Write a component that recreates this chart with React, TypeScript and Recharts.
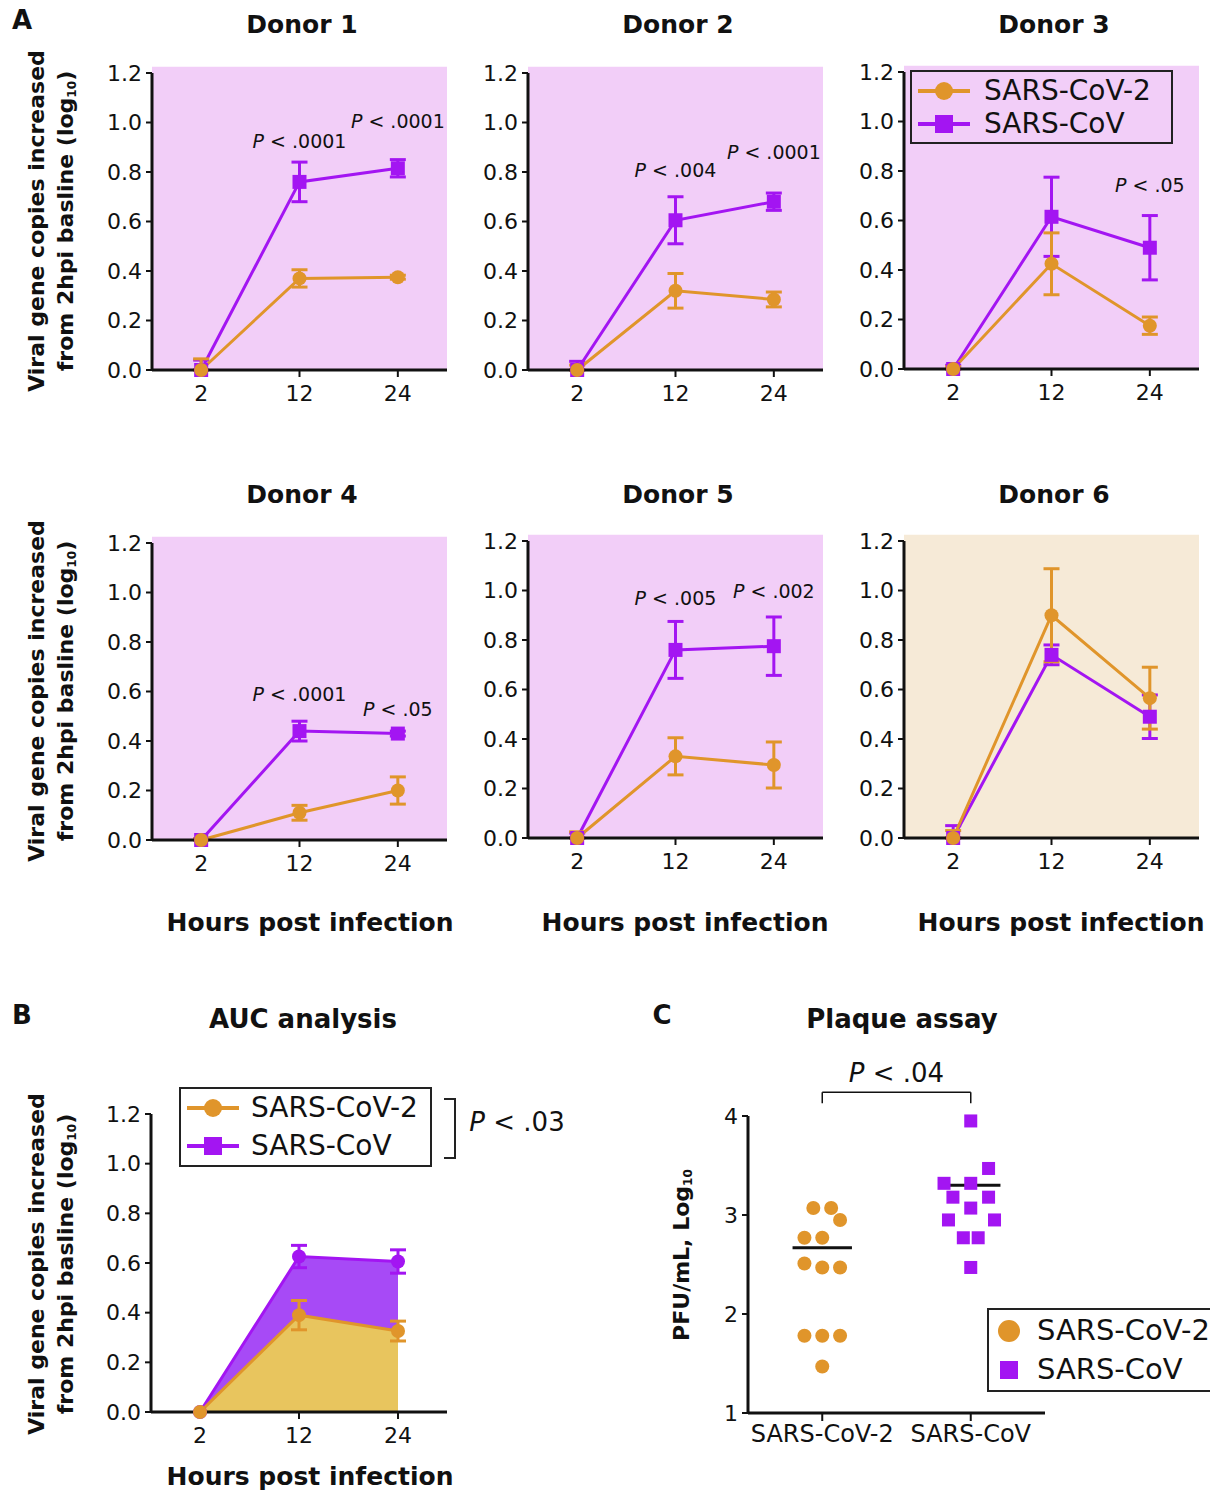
import React from "react";
import {
  Area,
  ComposedChart,
  ErrorBar,
  Legend,
  Line,
  LineChart,
  ReferenceArea,
  ReferenceDot,
  ReferenceLine,
  Scatter,
  ScatterChart,
  XAxis,
  YAxis,
} from "recharts";

const FONT = "'DejaVu Sans', Arial, sans-serif";
const INK = "#111";
const ORANGE = "#e0952b";
const PURPLE = "#a315f2";
const PINK = "#f2cef8";
const BEIGE = "#f6ead7";
const PURPLE_FILL = "#a74af6";
const GOLD_FILL = "#e8c55e";

const HOURS = ["2", "12", "24"];
const Y_TICKS = [0, 0.2, 0.4, 0.6, 0.8, 1.0, 1.2];

// per donor: mean log10 rise over the 2 hpi baseline, and error bar half-length
const D1_COV2 = [0, 0.37, 0.375];
const D1_COV2_ERR = [0.045, 0.035, 0.008];
const D1_COV = [0, 0.76, 0.815];
const D1_COV_ERR = [0.04, 0.08, 0.035];

const D2_COV2 = [0, 0.32, 0.285];
const D2_COV2_ERR = [0.02, 0.07, 0.03];
const D2_COV = [0, 0.605, 0.68];
const D2_COV_ERR = [0.035, 0.095, 0.035];

const D3_COV2 = [0, 0.425, 0.175];
const D3_COV2_ERR = [0.01, 0.125, 0.035];
const D3_COV = [0, 0.615, 0.49];
const D3_COV_ERR = [0.015, 0.16, 0.13];

const D4_COV2 = [0, 0.11, 0.2];
const D4_COV2_ERR = [0.005, 0.03, 0.055];
const D4_COV = [0, 0.44, 0.43];
const D4_COV_ERR = [0.005, 0.04, 0.01];

const D5_COV2 = [0, 0.33, 0.295];
const D5_COV2_ERR = [0.025, 0.075, 0.093];
const D5_COV = [0, 0.76, 0.775];
const D5_COV_ERR = [0.02, 0.115, 0.118];

const D6_COV2 = [0, 0.9, 0.565];
const D6_COV2_ERR = [0.03, 0.188, 0.125];
const D6_COV = [0, 0.74, 0.49];
const D6_COV_ERR = [0.05, 0.04, 0.088];

// AUC panel (pooled)
const AUC_COV2 = [0, 0.39, 0.326];
const AUC_COV2_ERR = [0, 0.059, 0.04];
const AUC_COV = [0, 0.626, 0.606];
const AUC_COV_ERR = [0, 0.045, 0.047];

// plaque assay, PFU/mL log10, with horizontal spread inside each column
const C_GROUPS = ["SARS-CoV-2", "SARS-CoV"];
const C_COV2_PFU = [3.07, 3.07, 2.95, 2.77, 2.77, 2.51, 2.47, 2.47, 1.78, 1.78, 1.78, 1.47];
const C_COV2_SPREAD = [-0.06, 0.06, 0.12, -0.12, 0, -0.12, 0, 0.12, -0.12, 0, 0.12, 0];
const C_COV_PFU = [3.95, 3.47, 3.32, 3.32, 3.18, 3.18, 3.07, 2.95, 2.95, 2.77, 2.77, 2.47];
const C_COV_SPREAD = [0, 0.12, -0.18, 0, -0.12, 0.12, 0, -0.15, 0.16, -0.05, 0.05, 0];
const C_MEDIANS = [2.67, 3.3];

const SERIES = [
  { name: "SARS-CoV-2", color: ORANGE, shape: "circle" },
  { name: "SARS-CoV", color: PURPLE, shape: "square" },
];

type Note = { hour: string; y: number; text: string };
type Donor = {
  title: string;
  cov2: number[];
  cov2Err: number[];
  cov: number[];
  covErr: number[];
  notes: Note[];
  bg: string;
  left: number;
  top: number;
  legend?: boolean;
};

const DONORS: Donor[] = [
  { title: "Donor 1", cov2: D1_COV2, cov2Err: D1_COV2_ERR, cov: D1_COV, covErr: D1_COV_ERR, bg: PINK, left: 152, top: 73,
    notes: [{ hour: "12", y: 0.925, text: ".0001" }, { hour: "24", y: 1.005, text: ".0001" }] },
  { title: "Donor 2", cov2: D2_COV2, cov2Err: D2_COV2_ERR, cov: D2_COV, covErr: D2_COV_ERR, bg: PINK, left: 528, top: 73,
    notes: [{ hour: "12", y: 0.81, text: ".004" }, { hour: "24", y: 0.88, text: ".0001" }] },
  { title: "Donor 3", cov2: D3_COV2, cov2Err: D3_COV2_ERR, cov: D3_COV, covErr: D3_COV_ERR, bg: PINK, left: 904, top: 72,
    notes: [{ hour: "24", y: 0.745, text: ".05" }], legend: true },
  { title: "Donor 4", cov2: D4_COV2, cov2Err: D4_COV2_ERR, cov: D4_COV, covErr: D4_COV_ERR, bg: PINK, left: 152, top: 543,
    notes: [{ hour: "12", y: 0.59, text: ".0001" }, { hour: "24", y: 0.53, text: ".05" }] },
  { title: "Donor 5", cov2: D5_COV2, cov2Err: D5_COV2_ERR, cov: D5_COV, covErr: D5_COV_ERR, bg: PINK, left: 528, top: 541,
    notes: [{ hour: "12", y: 0.97, text: ".005" }, { hour: "24", y: 1.0, text: ".002" }] },
  { title: "Donor 6", cov2: D6_COV2, cov2Err: D6_COV2_ERR, cov: D6_COV, covErr: D6_COV_ERR, bg: BEIGE, left: 904, top: 541,
    notes: [] },
];

const axisProps = {
  axisLine: { stroke: INK, strokeWidth: 3 },
  tickLine: { stroke: INK, strokeWidth: 2 },
  tick: { fill: INK, fontSize: 22, fontFamily: FONT },
};

const circleDot = (color: string, r = 7) => (p: any) =>
  <circle key={`c${p.index}`} cx={p.cx} cy={p.cy} r={r} fill={color} />;
const squareDot = (color: string, s = 14) => (p: any) =>
  <rect key={`s${p.index}`} x={p.cx - s / 2} y={p.cy - s / 2} width={s} height={s} fill={color} />;

const pText = (text: string, size: number) => (p: any) => (
  <text x={p.cx} y={p.cy} textAnchor="middle" dominantBaseline="central" fontSize={size} fontFamily={FONT} fill={INK}>
    <tspan fontStyle="italic">P</tspan>
    {` < ${text}`}
  </text>
);

// the baseline point only shows its upper whisker (lower one sits under the axis)
const whisker = (err: number, i: number) => (i === 0 ? [0, err] : err);

function LegendBox({ withLine, rowH, padX, padY, gap, width, size }: { withLine: boolean; rowH: number; padX: number; padY: number; gap: number; width: number; size: number }) {
  const w = withLine ? 52 : 24;
  return (
    <div style={{ boxSizing: "border-box", width, border: "2px solid #222", padding: `${padY}px ${padX}px`, fontFamily: FONT, fontSize: size, lineHeight: `${rowH}px`, color: INK, whiteSpace: "nowrap" }}>
      {SERIES.map((s) => (
        <div key={s.name} style={{ display: "flex", alignItems: "center", height: rowH }}>
          <svg width={w} height={22} style={{ marginRight: gap, flex: "none" }}>
            {withLine && <line x1={0} y1={11} x2={w} y2={11} stroke={s.color} strokeWidth={4} />}
            {s.shape === "circle" ? (
              <circle cx={w / 2} cy={11} r={withLine ? 9 : 11} fill={s.color} />
            ) : (
              <rect x={w / 2 - 9} y={2} width={18} height={18} fill={s.color} />
            )}
          </svg>
          <span>{s.name}</span>
        </div>
      ))}
    </div>
  );
}

function DonorChart({ d }: { d: Donor }) {
  const data = HOURS.map((h, i) => ({
    idx: i,
    cov2: d.cov2[i],
    cov2Err: whisker(d.cov2Err[i], i),
    cov: d.cov[i],
    covErr: whisker(d.covErr[i], i),
  }));
  return (
    <div style={{ position: "absolute", left: d.left - 70, top: d.top - 30 }}>
      <LineChart width={380} height={372} data={data} margin={{ top: 30, right: 15, bottom: 0, left: 0 }}>
        <ReferenceArea x1={-0.5} x2={2.5} y1={0} y2={1.225} fill={d.bg} fillOpacity={1} stroke="none" ifOverflow="visible" />
        <XAxis type="number" dataKey="idx" domain={[-0.5, 2.5]} ticks={[0, 1, 2]} tickFormatter={(i: number) => HOURS[i]}
          height={45} tickSize={7} tickMargin={8} {...axisProps} />
        <YAxis domain={[0, 1.2]} ticks={Y_TICKS} width={70} tickSize={6} tickMargin={4} tickFormatter={(v: number) => v.toFixed(1)} {...axisProps} />
        <Line dataKey="cov" stroke={PURPLE} strokeWidth={3} dot={squareDot(PURPLE)} activeDot={false} isAnimationActive={false}>
          <ErrorBar dataKey="covErr" width={8} strokeWidth={3} stroke={PURPLE} direction="y" />
        </Line>
        <Line dataKey="cov2" stroke={ORANGE} strokeWidth={3} dot={circleDot(ORANGE)} activeDot={false} isAnimationActive={false}>
          <ErrorBar dataKey="cov2Err" width={8} strokeWidth={3} stroke={ORANGE} direction="y" />
        </Line>
        {d.notes.map((n) => (
          <ReferenceDot key={n.hour} x={HOURS.indexOf(n.hour)} y={n.y} r={0} shape={pText(n.text, 19)} />
        ))}
        {d.legend && (
          <Legend
            layout="vertical"
            align="center"
            verticalAlign="middle"
            wrapperStyle={{ left: 76, top: 28, width: "auto" }}
            content={() => <LegendBox withLine rowH={33} padX={6} padY={2} gap={14} width={263} size={28} />}
          />
        )}
      </LineChart>
    </div>
  );
}

function AucChart() {
  const data = HOURS.map((h, i) => ({ hour: h, cov2: AUC_COV2[i], cov2Err: AUC_COV2_ERR[i], cov: AUC_COV[i], covErr: AUC_COV_ERR[i] }));
  return (
    <div style={{ position: "absolute", left: 151 - 70, top: 1114 - 30 }}>
      <ComposedChart width={381} height={373} data={data} margin={{ top: 30, right: 15, bottom: 0, left: 0 }}>
        <XAxis dataKey="hour" padding={{ left: 49, right: 49 }} height={45} tickSize={7} tickMargin={8} {...axisProps} />
        <YAxis domain={[0, 1.2]} ticks={Y_TICKS} width={70} tickSize={6} tickMargin={4} tickFormatter={(v: number) => v.toFixed(1)} {...axisProps} />
        <Area type="linear" dataKey="cov" stroke={PURPLE} strokeWidth={3} fill={PURPLE_FILL} fillOpacity={1} dot={false} activeDot={false} isAnimationActive={false} />
        <Area type="linear" dataKey="cov2" stroke={ORANGE} strokeWidth={3} fill={GOLD_FILL} fillOpacity={1} dot={false} activeDot={false} isAnimationActive={false} />
        <Line dataKey="cov" stroke="none" dot={circleDot(PURPLE)} activeDot={false} isAnimationActive={false}>
          <ErrorBar dataKey="covErr" width={8} strokeWidth={3} stroke={PURPLE} direction="y" />
        </Line>
        <Line dataKey="cov2" stroke="none" dot={circleDot(ORANGE)} activeDot={false} isAnimationActive={false}>
          <ErrorBar dataKey="cov2Err" width={8} strokeWidth={3} stroke={ORANGE} direction="y" />
        </Line>
        <Legend
          layout="vertical"
          align="center"
          verticalAlign="middle"
          wrapperStyle={{ left: 98, top: 3, width: "auto" }}
          content={() => <LegendBox withLine rowH={38} padX={6} padY={0} gap={12} width={253} size={28} />}
        />
      </ComposedChart>
    </div>
  );
}

function PlaqueChart() {
  const cov2 = C_COV2_PFU.map((v, i) => ({ x: 1 + C_COV2_SPREAD[i], y: v }));
  const cov = C_COV_PFU.map((v, i) => ({ x: 2 + C_COV_SPREAD[i], y: v }));
  return (
    <div style={{ position: "absolute", left: 748 - 60, top: 1116 - 80 }}>
      <ScatterChart width={372} height={422} margin={{ top: 80, right: 15, bottom: 0, left: 0 }}>
        <XAxis type="number" dataKey="x" domain={[0.5, 2.5]} ticks={[1, 2]} tickFormatter={(v: number) => C_GROUPS[v - 1]}
          height={45} tickSize={8} tickMargin={4} {...axisProps} tick={{ ...axisProps.tick, fontSize: 24 }} />
        <YAxis type="number" dataKey="y" domain={[1, 4]} ticks={[1, 2, 3, 4]} width={60} tickSize={6} tickMargin={4} {...axisProps} />
        <Scatter data={cov2} fill={ORANGE} shape={circleDot(ORANGE, 7)} isAnimationActive={false} />
        <Scatter data={cov} fill={PURPLE} shape={squareDot(PURPLE, 13)} isAnimationActive={false} />
        {C_MEDIANS.map((m, i) => (
          <ReferenceLine key={i} segment={[{ x: i + 1 - 0.2, y: m }, { x: i + 1.2, y: m }]} stroke={INK} strokeWidth={3} />
        ))}
        <ReferenceLine segment={[{ x: 1, y: 4.24 }, { x: 2, y: 4.24 }]} stroke={INK} strokeWidth={1.5} ifOverflow="visible" />
        <ReferenceLine segment={[{ x: 1, y: 4.24 }, { x: 1, y: 4.13 }]} stroke={INK} strokeWidth={1.5} ifOverflow="visible" />
        <ReferenceLine segment={[{ x: 2, y: 4.24 }, { x: 2, y: 4.13 }]} stroke={INK} strokeWidth={1.5} ifOverflow="visible" />
        <ReferenceDot x={1.5} y={4.43} r={0} shape={pText(".04", 26)} ifOverflow="visible" />
        <Legend
          layout="vertical"
          align="center"
          verticalAlign="middle"
          wrapperStyle={{ left: 299, top: 272, width: "auto" }}
          content={() => <LegendBox withLine={false} rowH={39} padX={8} padY={1} gap={16} width={260} size={29} />}
        />
      </ScatterChart>
    </div>
  );
}

function T({ x, y, size, bold, rotate, children }: { x: number; y: number; size: number; bold?: boolean; rotate?: boolean; children: React.ReactNode }) {
  return (
    <div
      style={{
        position: "absolute",
        left: x,
        top: y,
        transform: `translate(-50%, -50%)${rotate ? " rotate(-90deg)" : ""}`,
        fontSize: size,
        fontWeight: bold ? 700 : 400,
        fontFamily: FONT,
        color: INK,
        whiteSpace: "nowrap",
        lineHeight: 1,
      }}
    >
      {children}
    </div>
  );
}

const Sub10 = () => <sub style={{ fontSize: "0.55em", verticalAlign: "-0.25em" }}>10</sub>;

function YTitle({ cy }: { cy: number }) {
  return (
    <>
      <T x={37} y={cy} size={22} bold rotate>Viral gene copies increased</T>
      <T x={67} y={cy} size={22} bold rotate>from 2hpi basline (log<Sub10 />)</T>
    </>
  );
}

export default function App() {
  return (
    <div style={{ position: "absolute", left: 0, top: 0, width: 1210, height: 1493, overflow: "hidden", background: "#fff" }}>
      {DONORS.map((d) => (
        <DonorChart key={d.title} d={d} />
      ))}
      <AucChart />
      <PlaqueChart />

      <T x={22} y={20} size={26} bold>A</T>
      <T x={22} y={1015} size={26} bold>B</T>
      <T x={662} y={1015} size={26} bold>C</T>

      {DONORS.map((d) => (
        <T key={d.title} x={d.left + 150} y={d.top < 300 ? 24 : 494} size={25} bold>{d.title}</T>
      ))}
      {[310, 685, 1061].map((x) => (
        <T key={x} x={x} y={922} size={25} bold>Hours post infection</T>
      ))}
      <T x={310} y={1476} size={25} bold>Hours post infection</T>
      <T x={303} y={1019} size={26} bold>AUC analysis</T>
      <T x={902} y={1019} size={26} bold>Plaque assay</T>

      <YTitle cy={221} />
      <YTitle cy={691} />
      <YTitle cy={1264} />
      <T x={683} y={1255} size={22} bold rotate>PFU/mL, Log<Sub10 /></T>

      <div style={{ position: "absolute", left: 444, top: 1098, width: 10, height: 57, border: "2px solid #222", borderLeft: "none" }} />
      <T x={517} y={1122} size={26}><i>P</i> &lt; .03</T>
    </div>
  );
}
